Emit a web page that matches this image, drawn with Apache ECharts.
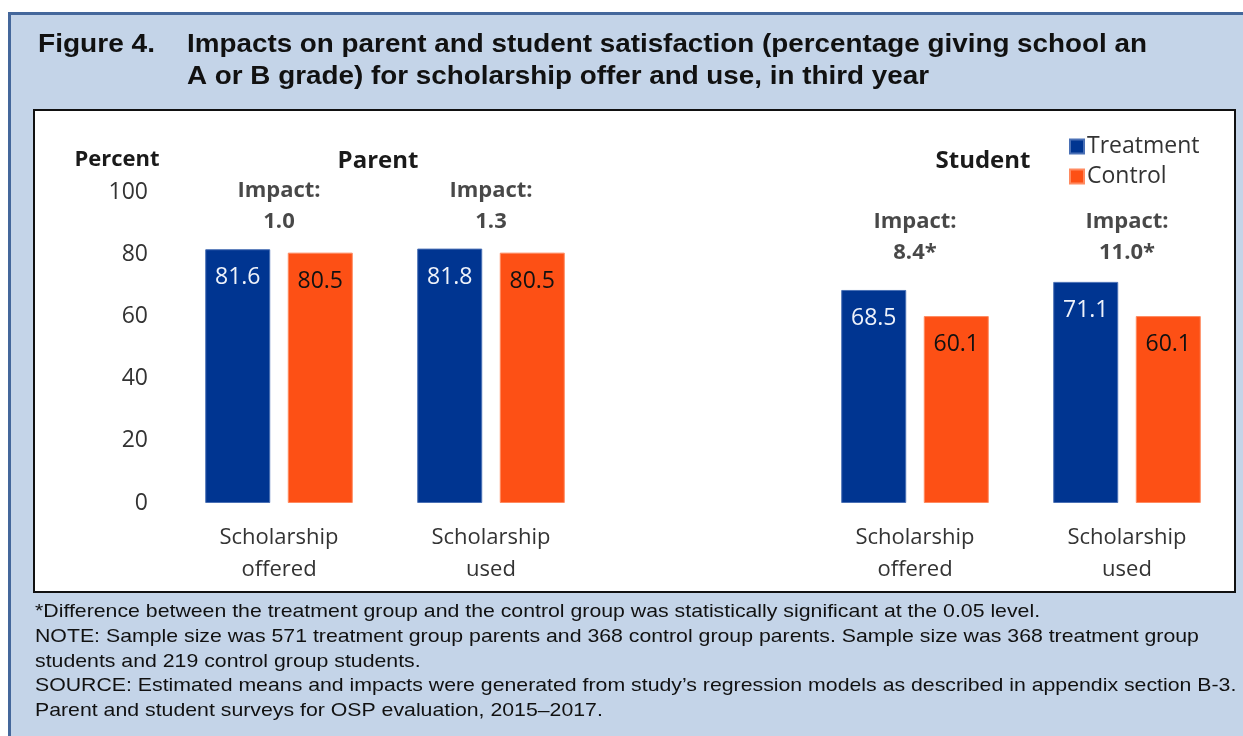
<!DOCTYPE html>
<html>
<head>
<meta charset="utf-8">
<script src="https://cdn.jsdelivr.net/npm/echarts@6/dist/echarts.min.js"></script>
<style>
html,body{margin:0;padding:0;background:#fff;}
#c{width:1243px;height:736px;}
</style>
</head>
<body>
<div id="c"></div>
<script>
var categories = ['Scholarship\noffered', 'Scholarship\nused', '', 'Scholarship\noffered', 'Scholarship\nused'];
var treatment = [81.6, 81.8, null, 68.5, 71.1];
var control = [80.5, 80.5, null, 60.1, 60.1];
var impacts = ['1.0', '1.3', null, '8.4*', '11.0*'];
var impactLabelLevel = [95.5, 95.5, null, 85.5, 85.5];
var yTicks = { min: 0, max: 100, interval: 20 };
var seriesNames = ['Treatment', 'Control'];
var titleLines = ['Impacts on parent and student satisfaction (percentage giving school an', 'A or B grade) for scholarship offer and use, in third year'];
var notes = [
  '*Difference between the treatment group and the control group was statistically significant at the 0.05 level.',
  'NOTE: Sample size was 571 treatment group parents and 368 control group parents. Sample size was 368 treatment group',
  'students and 219 control group students.',
  'SOURCE: Estimated means and impacts were generated from study\u2019s regression models as described in appendix section B-3.',
  'Parent and student surveys for OSP evaluation, 2015\u20132017.'
];

var F = '"Open Sans", Lato, sans-serif';
var A = '"Liberation Sans", Arial, sans-serif';
var chart = echarts.init(document.getElementById('c'));

var impactData = [];
for (var i = 0; i < categories.length; i++) {
  if (impacts[i] !== null) impactData.push({ value: [i, impactLabelLevel[i]], txt: impacts[i] });
}

var graphics = [
  { type: 'rect', z: -10, shape: { x: 0, y: 0, width: 1243, height: 736 }, style: { fill: '#ffffff' } },
  { type: 'rect', z: -9, shape: { x: 10, y: 13, width: 1233, height: 723 }, style: { fill: '#c4d4e8' } },
  { type: 'rect', z: -8, shape: { x: 10, y: 12, width: 1233, height: 3 }, style: { fill: '#44679b' } },
  { type: 'rect', z: -8, shape: { x: 8, y: 12, width: 3, height: 724 }, style: { fill: '#44679b' } },
  { type: 'rect', z: -7, shape: { x: 34, y: 110, width: 1201, height: 482 }, style: { fill: '#ffffff', stroke: '#111', lineWidth: 2 } },
  { type: 'text', x: 38, y: 45, scaleX: 1.08, style: { text: 'Figure 4.', font: 'bold 26px ' + A, fill: '#111', verticalAlign: 'middle' } },
  { type: 'text', x: 187, y: 45, scaleX: 1.07, style: { text: titleLines[0], font: 'bold 26px ' + A, fill: '#111', verticalAlign: 'middle' } },
  { type: 'text', x: 187, y: 77, scaleX: 1.07, style: { text: titleLines[1], font: 'bold 26px ' + A, fill: '#111', verticalAlign: 'middle' } },
  { type: 'text', x: 117, y: 160, style: { text: 'Percent', font: 'bold 22px ' + F, fill: '#1a1a1a', align: 'center', verticalAlign: 'middle' } },
  { type: 'text', x: 378, y: 161, style: { text: 'Parent', font: 'bold 24px ' + F, fill: '#1a1a1a', align: 'center', verticalAlign: 'middle' } },
  { type: 'text', x: 983, y: 161, style: { text: 'Student', font: 'bold 24px ' + F, fill: '#1a1a1a', align: 'center', verticalAlign: 'middle' } }
];
for (var k = 0; k < notes.length; k++) {
  graphics.push({ type: 'text', x: 35, y: 612 + k * 24.7, scaleX: 1.12, style: { text: notes[k], font: '19px ' + A, fill: '#111', verticalAlign: 'middle' } });
}

chart.setOption({
  animation: false,
  textStyle: { fontFamily: F },
  graphic: graphics,
  legend: {
    data: seriesNames,
    orient: 'vertical',
    left: 1064,
    top: 130,
    icon: 'rect',
    itemWidth: 14,
    itemHeight: 14,
    itemGap: 7,
    textStyle: { fontSize: 23, color: '#333', fontFamily: F, padding: [0, 0, 0, -2] }
  },
  grid: { left: 173, right: 10, top: 192, bottom: 233 },
  xAxis: {
    type: 'category',
    data: categories,
    axisLine: { show: false },
    axisTick: { show: false },
    axisLabel: { fontSize: 22, color: '#333', lineHeight: 32, margin: 19, interval: 0, fontFamily: F }
  },
  yAxis: {
    type: 'value',
    min: yTicks.min,
    max: yTicks.max,
    interval: yTicks.interval,
    splitLine: { show: false },
    axisLine: { show: false },
    axisTick: { show: false },
    axisLabel: { fontSize: 23, color: '#333', margin: 25, fontFamily: F }
  },
  series: [
    {
      name: seriesNames[0], type: 'bar', data: treatment, barWidth: 65, barGap: '27%',
      itemStyle: { color: '#003591', borderColor: '#4a70b5', borderWidth: 1 },
      label: { show: true, position: 'insideTop', distance: 17, fontSize: 23, color: '#eef2fa', fontFamily: F, formatter: function (p) { return p.value.toFixed(1); } }
    },
    {
      name: seriesNames[1], type: 'bar', data: control, barWidth: 65,
      itemStyle: { color: '#fd5015', borderColor: '#ff8a60', borderWidth: 1 },
      label: { show: true, position: 'insideTop', distance: 17, fontSize: 23, color: '#111', fontFamily: F, formatter: function (p) { return p.value.toFixed(1); } }
    },
    {
      type: 'scatter', data: impactData, symbolSize: 1, itemStyle: { color: 'rgba(0,0,0,0)' },
      silent: true, z: 5,
      label: {
        show: true, position: 'inside', fontSize: 22, fontWeight: 'bold', color: '#1a1a1a', lineHeight: 31, fontFamily: F,
        formatter: function (p) { return 'Impact:\n' + p.data.txt; }
      }
    }
  ]
});
</script>
</body>
</html>
